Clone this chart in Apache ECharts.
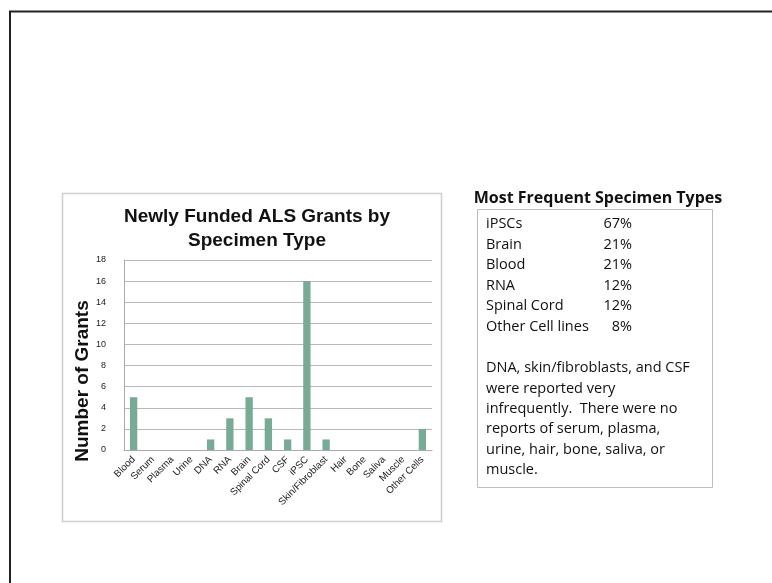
<!DOCTYPE html>
<html><head><meta charset="utf-8">
<script src="https://cdn.jsdelivr.net/npm/echarts@6/dist/echarts.min.js"></script>
<style>html,body{margin:0;padding:0;background:#fff}#c{width:772px;height:583px}</style>
</head><body><div id="c"></div>
<script>
var categories = ['Blood','Serum','Plasma','Urine','DNA','RNA','Brain','Spinal Cord','CSF','iPSC','Skin/Fibroblast','Hair','Bone','Saliva','Muscle','Other Cells'];
var grants = [5,0,0,0,1,3,5,3,1,16,1,0,0,0,0,2];
var yTicks = [0,2,4,6,8,10,12,14,16,18];
var freqNames = ['iPSCs','Brain','Blood','RNA','Spinal Cord','Other Cell lines'];
var freqPct = ['67%','21%','21%','12%','12%','8%'];
var noteLines = ['DNA, skin/fibroblasts, and CSF','were reported very','infrequently.  There were no','reports of serum, plasma,','urine, hair, bone, saliva, or','muscle.'];

var chart = echarts.init(document.getElementById('c'), null, {renderer:'canvas'});
var boxFont = '"Open Sans", sans-serif';
var arial = '"Liberation Sans", Arial, sans-serif';
var g = [
  {type:'polyline', shape:{points:[[10,583],[10,11.5],[772,11.5]]}, style:{stroke:'#222',lineWidth:2,fill:null}},
  {type:'rect', shape:{x:62.5,y:193.5,width:379,height:328}, style:{stroke:'#cfcfcf',lineWidth:1.5,fill:null}, z:-1},
  {type:'rect', shape:{x:477.5,y:209.5,width:235,height:278}, style:{stroke:'#bdbdbd',lineWidth:1,fill:null}},
  {type:'text', x:598, y:198, style:{text:'Most Frequent Specimen Types', font:'bold 16px '+boxFont, fill:'#111', textAlign:'center', textVerticalAlign:'middle'}},
  {type:'text', x:83, y:381, rotation:Math.PI/2, style:{text:'Number of Grants', font:'bold 19px '+arial, fill:'#111', textAlign:'center', textVerticalAlign:'middle'}}
];
freqNames.forEach(function(n,i){
  g.push({type:'text', x:486, y:224+i*20.5, style:{text:n, font:'14.5px '+boxFont, fill:'#111', textVerticalAlign:'middle'}});
  g.push({type:'text', x:632, y:224+i*20.5, style:{text:freqPct[i], font:'14.5px '+boxFont, fill:'#111', textAlign:'right', textVerticalAlign:'middle'}});
});
noteLines.forEach(function(t,i){
  g.push({type:'text', x:486, y:368+i*20.4, style:{text:t, font:'14.5px '+boxFont, fill:'#111', textVerticalAlign:'middle'}});
});

chart.setOption({
  animation:false,
  backgroundColor:'#fff',
  title:{text:'Newly Funded ALS Grants by\nSpecimen Type', left:252, top:200, textAlign:'center',
    textStyle:{fontFamily:arial, fontSize:19, fontWeight:'bold', color:'#111', lineHeight:24}},
  grid:{left:124, right:340, top:260, bottom:133, containLabel:false},
  xAxis:{type:'category', data:categories,
    axisLine:{lineStyle:{color:'#aaa'}}, axisTick:{show:false},
    axisLabel:{interval:0, rotate:45, fontSize:9.8, color:'#222', fontFamily:arial, margin:8}},
  yAxis:{type:'value', min:0, max:18, interval:2,
    axisLine:{show:true, lineStyle:{color:'#aaa'}}, axisTick:{show:false},
    splitLine:{lineStyle:{color:'#b8b8b8'}},
    axisLabel:{fontSize:9, color:'#222', fontFamily:arial, margin:18,
      formatter:function(v){return yTicks.indexOf(v)>=0?String(v):'';}}},
  series:[{type:'bar', data:grants, barWidth:'38%', itemStyle:{color:'#78ab95'}}],
  graphic:g
});
</script></body></html>
